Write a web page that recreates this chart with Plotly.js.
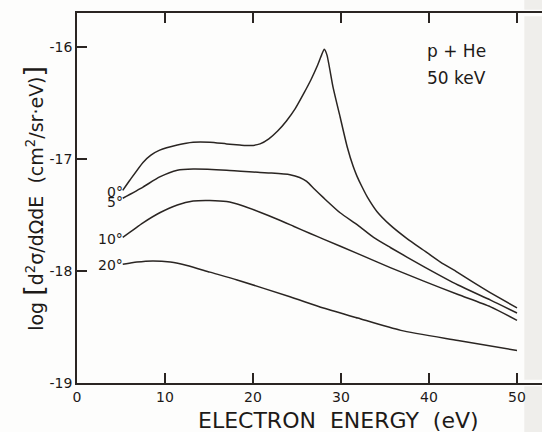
<!DOCTYPE html>
<html>
<head>
<meta charset="utf-8">
<script src="https://cdn.plot.ly/plotly-3.0.1.min.js"></script>
<style>
  html, body { margin: 0; padding: 0; background: #fdfdfc; }
  #plot { width: 542px; height: 432px; }
</style>
</head>
<body>
<div id="plot"></div>
<script>
// Doubly differential electron emission, p + He at 50 keV
// log10 of d2sigma/dOmega dE versus electron energy, for four emission angles

const energy0 = [5.2, 6, 7.5, 8.4, 9.4, 11.4, 13.2, 15.1, 17, 18.5, 19.7, 20.8, 21.8, 22.8, 23.8, 24.8, 25.8, 26.6, 27.3, 27.8, 28.1, 28.4, 29.1, 29.9, 30.7, 31.4, 31.8, 32.4, 33, 34.1, 35.6, 37.5, 39.3, 41.3, 43.2, 45, 46.9, 50];
const sigma0  = [-17.28, -17.19, -17.03, -16.965, -16.92, -16.875, -16.85, -16.85, -16.865, -16.875, -16.88, -16.865, -16.82, -16.75, -16.66, -16.55, -16.41, -16.29, -16.17, -16.07, -16.02, -16.07, -16.36, -16.625, -16.89, -17.07, -17.15, -17.25, -17.34, -17.47, -17.59, -17.71, -17.81, -17.92, -18.01, -18.10, -18.19, -18.33];

const energy5 = [5.2, 7.5, 9.4, 11.4, 13.2, 17, 20.8, 22, 24.2, 25.3, 26.1, 27, 28, 29.9, 31.9, 33.7, 35.6, 39.4, 43.3, 47, 50];
const sigma5  = [-17.35, -17.25, -17.16, -17.10, -17.09, -17.10, -17.12, -17.125, -17.14, -17.165, -17.20, -17.27, -17.345, -17.48, -17.59, -17.70, -17.79, -17.96, -18.125, -18.26, -18.375];

const energy10 = [5.2, 7.5, 9.4, 11.4, 13.2, 15.1, 17, 18.9, 20.8, 22.7, 24.6, 26.5, 28, 31.9, 35.6, 39.4, 43.3, 47, 50];
const sigma10  = [-17.70, -17.57, -17.48, -17.41, -17.375, -17.37, -17.38, -17.42, -17.475, -17.535, -17.60, -17.665, -17.715, -17.845, -17.97, -18.09, -18.21, -18.32, -18.44];

const energy20 = [5.2, 6.8, 8.6, 10.6, 12.5, 15.1, 18.2, 24.2, 28, 31.9, 36.8, 43.3, 50];
const sigma20  = [-17.94, -17.92, -17.91, -17.92, -17.95, -18.01, -18.08, -18.23, -18.33, -18.42, -18.53, -18.62, -18.71];

const angleLabels = ['0°', '5°', '10°', '20°'];
const angleLabelY = [-17.29, -17.385, -17.71, -17.95];

const xTickVals = [0, 10, 20, 30, 40, 50];
const xTickText = ['0', '10', '20', '30', '40', '50'];
const yTickVals = [-19, -18, -17, -16];
const yTickText = ['-19', '-18', '-17', '-16'];

const ink = '#2a2522';
const textInk = '#1d1a18';
const fontFamily = 'DejaVu Sans, Liberation Sans, sans-serif';

const series = [
  [energy0, sigma0],
  [energy5, sigma5],
  [energy10, sigma10],
  [energy20, sigma20]
];

const traces = series.map(([x, y], i) => ({
  x: x,
  y: y,
  name: angleLabels[i],
  type: 'scatter',
  mode: 'lines',
  line: { color: ink, width: 1.5, shape: 'spline', smoothing: 0.6 },
  hoverinfo: 'x+y+name'
}));

const annotations = angleLabels.map((t, i) => ({
  text: t,
  x: 5.4, y: angleLabelY[i],
  xref: 'x', yref: 'y',
  xanchor: 'right', yanchor: 'middle',
  showarrow: false,
  font: { family: fontFamily, size: 14, color: textInk }
}));

annotations.push(
  {
    text: 'p + He', x: 39.5, y: -16.036, xref: 'x', yref: 'y',
    xanchor: 'left', yanchor: 'middle', showarrow: false,
    font: { family: fontFamily, size: 17, color: textInk }
  },
  {
    text: '50 keV', x: 39.5, y: -16.277, xref: 'x', yref: 'y',
    xanchor: 'left', yanchor: 'middle', showarrow: false,
    font: { family: fontFamily, size: 17, color: textInk }
  },
  {
    text: 'ELECTRON\u00a0\u00a0ENERGY\u00a0\u00a0(eV)',
    x: 0.563, y: -0.1, xref: 'paper', yref: 'paper',
    xanchor: 'center', yanchor: 'middle', showarrow: false,
    font: { family: fontFamily, size: 22, color: textInk }
  },
  {
    text: 'log <span style="font-size:27px">[</span>d<sup>2</sup>σ/dΩdE\u00a0\u00a0(cm<sup>2</sup>/sr·eV)<span style="font-size:27px">]</span>',
    x: -0.095, y: 0.50, xref: 'paper', yref: 'paper',
    xanchor: 'center', yanchor: 'middle', textangle: -90, showarrow: false,
    font: { family: fontFamily, size: 19, color: textInk }
  }
);

// faint grey margin strip along the right edge of the page,
// split so the top and bottom frame lines stay visible through it
const stripBands = [[-0.14, -0.009], [0.009, 0.991], [1.009, 1.04]];
const shapes = stripBands.map(([y0, y1]) => ({
  type: 'rect', xref: 'paper', yref: 'paper',
  x0: 0.962, x1: 1.0, y0: y0, y1: y1,
  fillcolor: '#efeeeb', line: { width: 0 }, layer: 'below'
}));

const layout = {
  width: 542,
  height: 432,
  margin: { l: 77, r: 0, t: 13, b: 49 },
  paper_bgcolor: '#fdfdfc',
  plot_bgcolor: 'rgba(0,0,0,0)',
  showlegend: false,
  xaxis: {
    range: [0, 52.84],
    tickvals: xTickVals,
    ticktext: xTickText,
    ticks: 'inside',
    ticklen: 10,
    tickwidth: 1.5,
    tickcolor: ink,
    showline: true,
    linecolor: ink,
    linewidth: 1.8,
    mirror: 'ticks',
    showgrid: false,
    zeroline: false,
    tickfont: { family: fontFamily, size: 14, color: textInk }
  },
  yaxis: {
    range: [-19, -15.696],
    tickvals: yTickVals,
    ticktext: yTickText,
    ticks: 'inside',
    ticklen: 10,
    tickwidth: 1.5,
    tickcolor: ink,
    showline: true,
    linecolor: ink,
    linewidth: 1.8,
    showgrid: false,
    zeroline: false,
    tickfont: { family: fontFamily, size: 14, color: textInk }
  },
  shapes: shapes,
  annotations: annotations
};

Plotly.newPlot('plot', traces, layout, { displayModeBar: false, staticPlot: true });
</script>
</body>
</html>
